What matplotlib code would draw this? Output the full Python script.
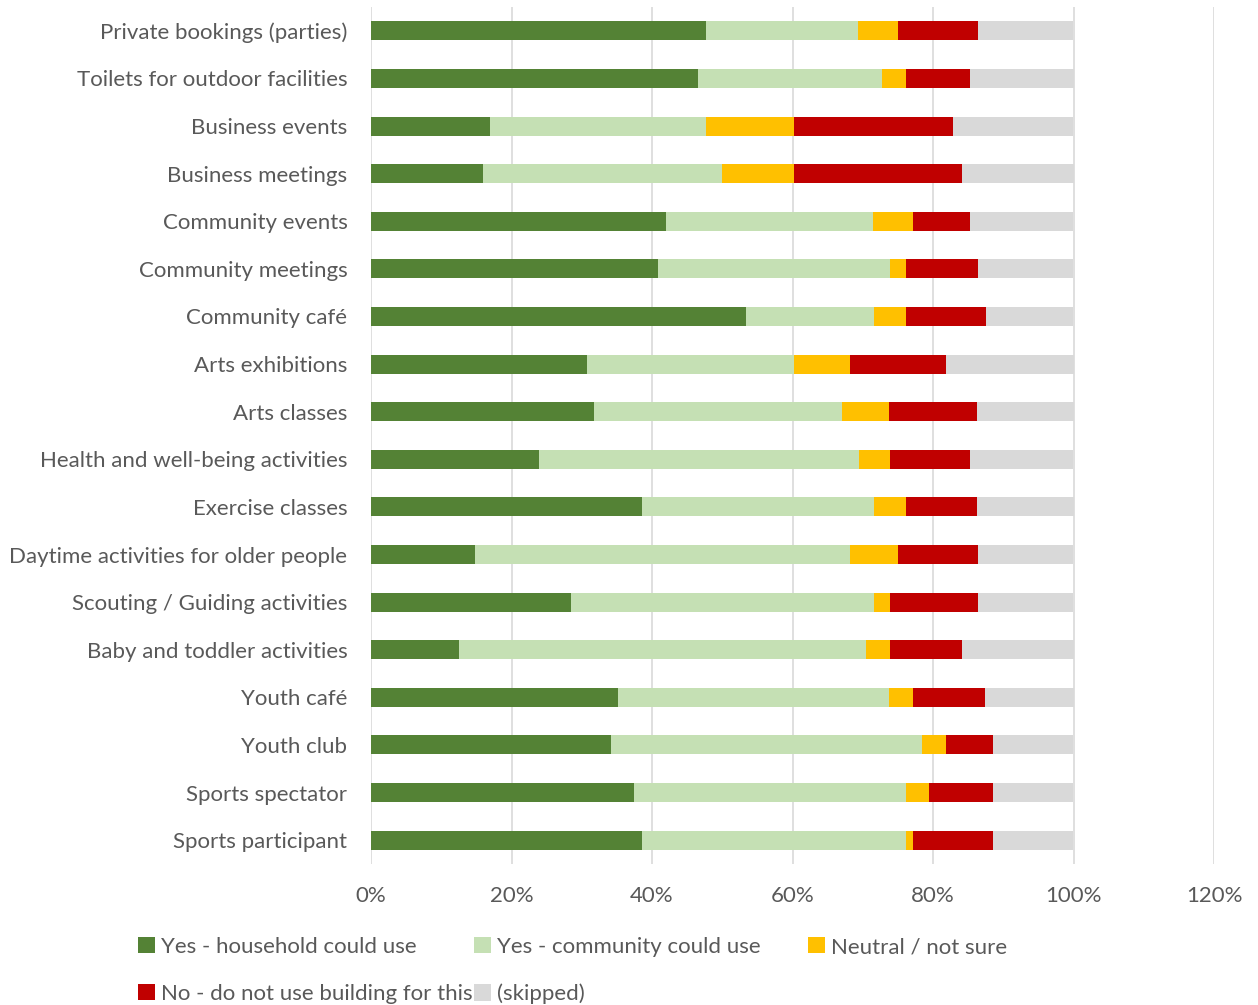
import numpy as np
import matplotlib.pyplot as plt

# activities (top to bottom as shown)
activities = [
    "Private bookings (parties)",
    "Toilets for outdoor facilities",
    "Business events",
    "Business meetings",
    "Community events",
    "Community meetings",
    "Community café",
    "Arts exhibitions",
    "Arts classes",
    "Health and well-being activities",
    "Exercise classes",
    "Daytime activities for older people",
    "Scouting / Guiding activities",
    "Baby and toddler activities",
    "Youth café",
    "Youth club",
    "Sports spectator",
    "Sports participant",
]

# percentages of responses per answer
yes_household = [47.7, 46.6, 17.0, 15.9, 42.0, 40.9, 53.4, 30.7, 31.8,
                 23.9, 38.6, 14.8, 28.4, 12.5, 35.2, 34.1, 37.5, 38.6]
yes_community = [21.6, 26.1, 30.7, 34.1, 29.5, 33.0, 18.2, 29.5, 35.2,
                 45.5, 33.0, 53.4, 43.2, 58.0, 38.6, 44.3, 38.6, 37.5]
neutral = [5.7, 3.4, 12.5, 10.2, 5.7, 2.3, 4.5, 8.0, 6.8,
           4.5, 4.5, 6.8, 2.3, 3.4, 3.4, 3.4, 3.4, 1.1]
no_use = [11.4, 9.1, 22.7, 23.9, 8.0, 10.2, 11.4, 13.6, 12.5,
          11.4, 10.2, 11.4, 12.5, 10.2, 10.2, 6.8, 9.1, 11.4]
skipped = [13.6, 14.8, 17.0, 15.9, 14.8, 13.6, 12.5, 18.2, 13.6,
           14.8, 13.6, 13.6, 13.6, 15.9, 12.5, 11.4, 11.4, 11.4]

series = [
    ("Yes - household could use", yes_household, "#548235"),
    ("Yes - community could use", yes_community, "#C5E0B4"),
    ("Neutral / not sure", neutral, "#FFC000"),
    ("No - do not use building for this", no_use, "#C00000"),
    ("(skipped)", skipped, "#D9D9D9"),
]

plt.rcParams['font.family'] = ['Lato', 'DejaVu Sans']
txt = '#595959'
fs = 16

fig = plt.figure(figsize=(12.58, 10.05), dpi=100)
ax = fig.add_axes([371 / 1258, 141 / 1005, 843 / 1258, 857 / 1005])

y = np.arange(len(activities))
left = np.zeros(len(activities))
handles = []
for name, vals, col in series:
    v = np.array(vals) / 100.0
    # last segment fills up to 100%
    if name == "(skipped)":
        v = 1.0 - left
    h = ax.barh(y, v, left=left, height=0.4, color=col, label=name, zorder=3)
    handles.append(h)
    left = left + v

ax.set_ylim(len(activities) - 0.5, -0.5)
ax.set_xlim(0, 1.2)
ax.set_xticks(np.arange(0, 1.21, 0.2))
ax.set_xticklabels([f"{int(round(t * 100))}%" for t in np.arange(0, 1.21, 0.2)])
ax.set_yticks(y)
ax.set_yticklabels(activities)
ax.tick_params(axis='both', length=0, labelsize=fs, colors=txt)
ax.tick_params(axis='y', pad=17)
ax.tick_params(axis='x', pad=16)
ax.grid(axis='x', color='#D9D9D9', linewidth=1.2, zorder=0)
for s in ax.spines.values():
    s.set_visible(False)

# legend laid out in equal-width columns, row by row
cols = [[0, 3], [1, 4], [2]]
col_x = [138, 474, 808]
for cx, idx in zip(col_x, cols):
    leg = fig.legend([handles[i] for i in idx], [series[i][0] for i in idx],
                     loc='upper left', bbox_to_anchor=(cx / 1258, 1 - 937 / 1005),
                     frameon=False, fontsize=fs, handlelength=0.75,
                     handleheight=0.75, handletextpad=0.3,
                     labelspacing=1.2, borderpad=0, borderaxespad=0)
    for t in leg.get_texts():
        t.set_color(txt)

fig.savefig("out.png", dpi=100)
